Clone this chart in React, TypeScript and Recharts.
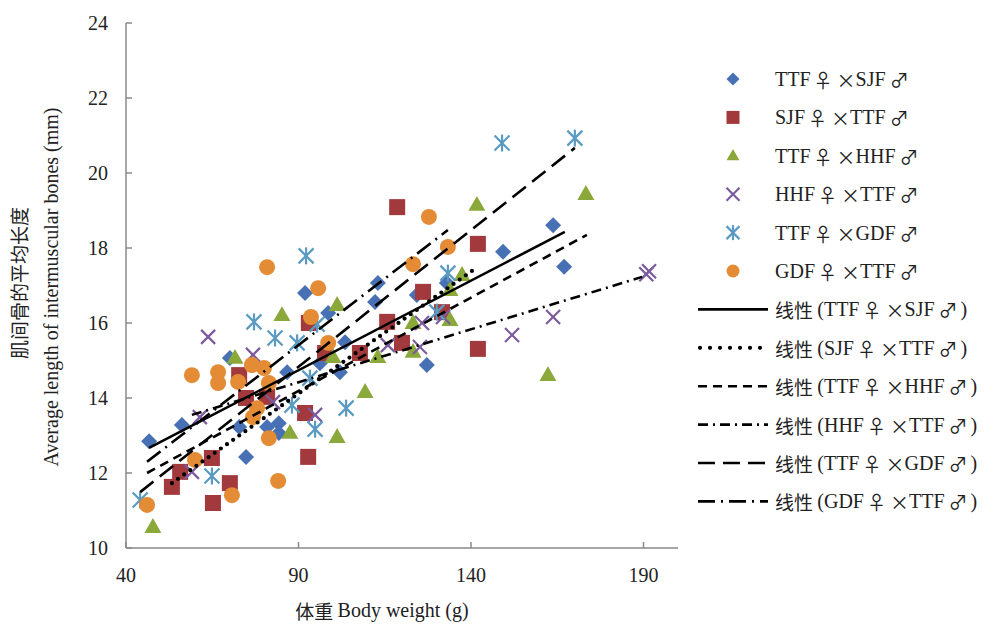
import React from "react";
import { ScatterChart, Scatter, XAxis, YAxis } from "recharts";

const xTicks = [40, 90, 140, 190];
const yTicks = [10, 12, 14, 16, 18, 20, 22, 24];

// TTF♀×SJF♂
const ttfSjfWeight = [46.7, 56.2, 74.8, 72.8, 80.9, 84.3, 84.3, 86.7, 70.1, 96.2, 102, 103.5, 98.6, 91.9, 113, 112.2, 124.3, 133, 127.2, 149.3, 163.8, 167];
const ttfSjfLength = [12.85, 13.28, 12.43, 13.23, 13.23, 13.33, 13.07, 14.69, 15.07, 14.93, 14.69, 15.49, 16.27, 16.8, 17.07, 16.56, 16.75, 17.07, 14.88, 17.9, 18.61, 17.5];
// SJF♀×TTF♂
const sjfTtfWeight = [53.3, 55.7, 64.9, 70.1, 65.2, 72.8, 74.8, 80.9, 91.9, 92.8, 93.0, 97.7, 107.8, 115.7, 120, 126.1, 131.6, 118.6, 142, 142];
const sjfTtfLength = [11.63, 12.03, 12.4, 11.73, 11.2, 14.61, 14.0, 14.03, 13.6, 12.43, 16.0, 15.2, 15.2, 16.03, 15.47, 16.83, 16.29, 19.09, 18.11, 15.31];
// TTF♀×HHF♂
const ttfHhfWeight = [47.8, 71.6, 85.2, 87.5, 101.2, 101.2, 100, 123.2, 133.9, 113, 123.2, 109.3, 162.3, 141.7, 173.3, 137.4, 133.9];
const ttfHhfLength = [10.56, 15.07, 16.21, 13.07, 12.96, 16.48, 15.09, 16.0, 16.08, 15.09, 15.23, 14.16, 14.61, 19.15, 19.44, 17.28, 16.88];
// HHF♀×TTF♂
const hhfTtfWeight = [63.8, 76.8, 61.4, 59.1, 82.6, 94.8, 115.9, 125.2, 125.8, 131.9, 151.9, 163.8, 190.8, 191.6];
const hhfTtfLength = [15.63, 15.15, 13.49, 12.03, 13.89, 13.55, 15.41, 15.36, 16.0, 16.16, 15.68, 16.16, 17.3, 17.38];
// TTF♀×GDF♂
const ttfGdfWeight = [44.1, 64.9, 77.1, 83.2, 89.6, 92.2, 95.4, 93.3, 88.1, 94.8, 103.8, 130.1, 133.3, 149, 170.1];
const ttfGdfLength = [11.28, 11.92, 16.03, 15.6, 15.47, 17.79, 15.97, 14.53, 13.81, 13.17, 13.73, 16.29, 17.33, 20.8, 20.93];
// GDF♀×TTF♂
const gdfTtfWeight = [46.1, 60, 70.7, 84.1, 81.4, 59.1, 66.7, 66.7, 72.5, 76.5, 80, 81.4, 78, 76.8, 93.6, 98.6, 95.7, 80.9, 127.8, 133.3, 123.2];
const gdfTtfLength = [11.15, 12.35, 11.41, 11.79, 12.93, 14.61, 14.69, 14.4, 14.43, 14.88, 14.8, 14.4, 13.73, 13.49, 16.16, 15.47, 16.93, 17.49, 18.83, 18.03, 17.57];

// linear trend lines, end points
const trendWeight = [
  [46.7, 167.2],
  [53.3, 140.6],
  [46.1, 173.6],
  [59.1, 189.6],
  [44.1, 170.1],
  [46.1, 133.3],
];
const trendLength = [
  [12.67, 18.43],
  [11.73, 17.41],
  [12.0, 18.35],
  [13.55, 17.23],
  [11.49, 20.67],
  [12.3, 18.48],
];

// female parent, male parent
const crosses = [
  ["TTF", "SJF"],
  ["SJF", "TTF"],
  ["TTF", "HHF"],
  ["HHF", "TTF"],
  ["TTF", "GDF"],
  ["GDF", "TTF"],
];
const seriesNames = crosses.map(([f, m]) => `${f}♀×${m}♂`);

const FONT = '"Liberation Serif", "Times New Roman", "Noto Sans CJK SC", serif';
const CJK = '"Noto Sans CJK SC", sans-serif';

const W = 985;
const H = 625;
const PLOT_LEFT = 126;
const PLOT_TOP = 23;
const PLOT_RIGHT = 678;
const PLOT_BOTTOM = 548;
const AXIS = "#8a8a8a";
const TEXT = "#222";

const toPoints = (xs: number[], ys: number[]) => xs.map((x, i) => ({ x, y: ys[i] }));

// markers
const Diamond = ({ cx, cy, s = 8 }: any) => (
  <polygon points={`${cx},${cy - s} ${cx + s},${cy} ${cx},${cy + s} ${cx - s},${cy}`} fill="#4770B5" />
);
const Square = ({ cx, cy, s = 8 }: any) => (
  <rect x={cx - s} y={cy - s} width={s * 2} height={s * 2} fill="#A2393C" />
);
const Triangle = ({ cx, cy, s = 8.5 }: any) => (
  <polygon points={`${cx},${cy - s * 1.05} ${cx + s},${cy + s * 0.7} ${cx - s},${cy + s * 0.7}`} fill="#8BA83B" />
);
const Cross = ({ cx, cy, s = 7 }: any) => (
  <g stroke="#7B5B9E" strokeWidth={2.2}>
    <line x1={cx - s} y1={cy - s} x2={cx + s} y2={cy + s} />
    <line x1={cx - s} y1={cy + s} x2={cx + s} y2={cy - s} />
  </g>
);
const Star = ({ cx, cy, s = 7.5 }: any) => (
  <g stroke="#5B9BC2" strokeWidth={2.2}>
    <line x1={cx - s} y1={cy - s} x2={cx + s} y2={cy + s} />
    <line x1={cx - s} y1={cy + s} x2={cx + s} y2={cy - s} />
    <line x1={cx} y1={cy - s - 1} x2={cx} y2={cy + s + 1} />
  </g>
);
const Circle = ({ cx, cy, s = 8 }: any) => <circle cx={cx} cy={cy} r={s} fill="#E38C35" />;

const markers = [Diamond, Square, Triangle, Cross, Star, Circle];

const scatterData = [
  toPoints(ttfSjfWeight, ttfSjfLength),
  toPoints(sjfTtfWeight, sjfTtfLength),
  toPoints(ttfHhfWeight, ttfHhfLength),
  toPoints(hhfTtfWeight, hhfTtfLength),
  toPoints(ttfGdfWeight, ttfGdfLength),
  toPoints(gdfTtfWeight, gdfTtfLength),
];

const lineStyles = [
  { strokeDasharray: undefined, strokeWidth: 2.6, strokeLinecap: "butt" },
  { strokeDasharray: "0 7.5", strokeWidth: 4.2, strokeLinecap: "round" },
  { strokeDasharray: "9 6", strokeWidth: 2.6, strokeLinecap: "butt" },
  { strokeDasharray: "10 5 2 5", strokeWidth: 2.6, strokeLinecap: "butt" },
  { strokeDasharray: "17 8", strokeWidth: 2.6, strokeLinecap: "butt" },
  { strokeDasharray: "17 6 2 6", strokeWidth: 2.6, strokeLinecap: "butt" },
];

// ticks point into the plot
const XTick = ({ x, y, payload }: any) => (
  <g>
    <line x1={x} x2={x} y1={y} y2={y - 6} stroke={AXIS} strokeWidth={1.5} />
    <text x={x} y={y + 34} textAnchor="middle" fontFamily={FONT} fontSize={20} fill={TEXT}>
      {payload.value}
    </text>
  </g>
);
const YTick = ({ x, y, payload }: any) => (
  <g>
    <line x1={x} x2={x + 6} y1={y} y2={y} stroke={AXIS} strokeWidth={1.5} />
    <text x={x - 18} y={y} dy="0.34em" textAnchor="end" fontFamily={FONT} fontSize={20} fill={TEXT}>
      {payload.value}
    </text>
  </g>
);

const CrossName = ({ f, m }: any) => (
  <>
    <tspan fontFamily={FONT}>{f}</tspan>
    <tspan fontFamily={CJK} fontSize={19} dx={3}>♀</tspan>
    <tspan fontFamily={CJK} fontSize={19} dx={4}>×</tspan>
    <tspan fontFamily={FONT}>{m}</tspan>
    <tspan fontFamily={CJK} fontSize={19} dx={4}>♂</tspan>
  </>
);

const YLabel = () => (
  <g fontFamily={FONT} fontSize={20} fill={TEXT}>
    <text x={18} y={283} transform="rotate(-90 18 283)" textAnchor="middle" dominantBaseline="central" fontFamily={CJK} fontSize={19}>
      肌间骨的平均长度
    </text>
    <text x={51} y={287} transform="rotate(-90 51 287)" textAnchor="middle" dominantBaseline="central">
      Average length of intermuscular bones (mm)
    </text>
  </g>
);

const XLabel = () => (
  <text x={382} y={610} textAnchor="middle" dominantBaseline="central" fontSize={20} fill={TEXT}>
    <tspan fontFamily={CJK} fontSize={19}>体重 </tspan>
    <tspan fontFamily={FONT}>Body weight (g)</tspan>
  </text>
);

const LegendBox = () => {
  const top = 79;
  const step = 38.4;
  return (
    <svg width={W - 680} height={H} style={{ position: "absolute", left: 680, top: 0 }}>
      {crosses.map(([f, m], i) => {
        const M = markers[i];
        const y = top + step * i;
        return (
          <g key={seriesNames[i]}>
            <M cx={53} cy={y} s={6.5} />
            <text x={95} y={y} dominantBaseline="central" fontSize={20} fill={TEXT}>
              <CrossName f={f} m={m} />
            </text>
          </g>
        );
      })}
      {crosses.map(([f, m], i) => {
        const y = top + step * (i + 6);
        const st = lineStyles[i];
        return (
          <g key={"l" + seriesNames[i]}>
            <line
              x1={i === 1 ? 20 : 18}
              x2={88}
              y1={y}
              y2={y}
              stroke="#000"
              strokeWidth={st.strokeWidth}
              strokeDasharray={i === 1 ? "0 10" : st.strokeDasharray}
              strokeLinecap={st.strokeLinecap as any}
            />
            <text x={95} y={y} dominantBaseline="central" fontSize={20} fill={TEXT}>
              <tspan fontFamily={CJK} fontSize={19}>线性 </tspan>
              <tspan fontFamily={FONT}>(</tspan>
              <CrossName f={f} m={m} />
              <tspan fontFamily={FONT} dx={3}>)</tspan>
            </text>
          </g>
        );
      })}
    </svg>
  );
};

export default function App() {
  return (
    <div style={{ position: "fixed", left: 0, top: 0, width: W, height: H, background: "#fff" }}>
      <ScatterChart
        width={W}
        height={H}
        margin={{ top: PLOT_TOP, right: W - PLOT_RIGHT, bottom: 0, left: 0 }}
      >
        <XAxis
          type="number"
          dataKey="x"
          domain={[40, 200]}
          ticks={xTicks}
          allowDataOverflow
          height={H - PLOT_BOTTOM}
          axisLine={{ stroke: AXIS, strokeWidth: 1.5 }}
          tickLine={false}
          tickSize={0}
          tickMargin={0}
          tick={<XTick />}
          label={() => <XLabel />}
        />
        <YAxis
          type="number"
          dataKey="y"
          domain={[10, 24]}
          ticks={yTicks}
          allowDataOverflow
          width={PLOT_LEFT}
          axisLine={{ stroke: AXIS, strokeWidth: 1.5 }}
          tickLine={false}
          tickSize={0}
          tickMargin={0}
          tick={<YTick />}
          label={() => <YLabel />}
        />
        {scatterData.map((pts, i) => {
          const M = markers[i];
          return (
            <Scatter
              key={seriesNames[i]}
              name={seriesNames[i]}
              data={pts}
              isAnimationActive={false}
              shape={(p: any) => <M cx={p.cx} cy={p.cy} />}
            />
          );
        })}
        {trendWeight.map((xs, i) => (
          <Scatter
            key={"trend" + i}
            data={toPoints(xs, trendLength[i])}
            isAnimationActive={false}
            legendType="none"
            shape={() => <g />}
            line={{
              stroke: "#000",
              strokeWidth: lineStyles[i].strokeWidth,
              strokeDasharray: lineStyles[i].strokeDasharray,
              strokeLinecap: lineStyles[i].strokeLinecap,
            } as any}
          />
        ))}
      </ScatterChart>
      <LegendBox />
    </div>
  );
}
